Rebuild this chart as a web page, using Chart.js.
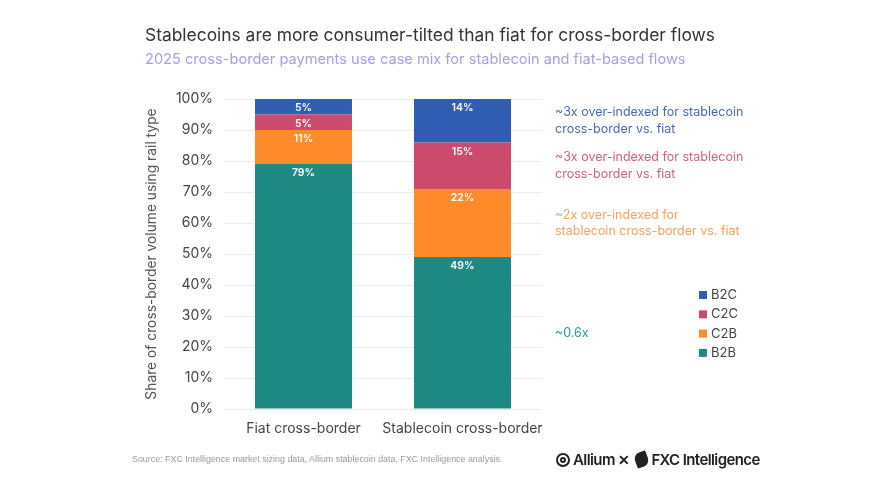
<!DOCTYPE html>
<html>
<head>
<meta charset="utf-8">
<script src="https://cdn.jsdelivr.net/npm/chart.js@4"></script>
<style>
  body { margin: 0; background: #fff; font-family: Inter, "Noto Sans", sans-serif; }
  #wrap { position: relative; width: 892px; height: 498px; overflow: hidden; }
  #wrap canvas { position: absolute; left: 0; top: 0; }
  .title { position: absolute; left: 145px; top: 24px; font-size: 17.4px; color: #333; white-space: nowrap; }
  .sub { position: absolute; left: 145px; top: 50px; font-size: 14.6px; color: #a99de6; white-space: nowrap; }
  .source { position: absolute; left: 132px; top: 454px; font-size: 8.9px; color: #999; font-family: Arial, "Liberation Sans", sans-serif; white-space: nowrap; }
  .logo { position: absolute; left: 556px; top: 450px; font-size: 15px; font-weight: 600; color: #222; white-space: nowrap; letter-spacing: -0.6px; display: flex; align-items: center; }
  .ring { width: 14px; height: 14px; border: 2px solid #222; border-radius: 50%; box-sizing: border-box; margin-right: 3px; position: relative; }
  .ring::after { content: ""; position: absolute; left: 2px; top: 2px; width: 6px; height: 6px; border: 2px solid #222; border-radius: 50%; box-sizing: border-box; }
  .fxc { display: inline-block; width: 13px; height: 15px; background: #222; border-radius: 50% 10% 50% 10%; margin: 0 3px 0 6px; transform: rotate(-20deg); }
</style>
</head>
<body>
<div id="wrap">
  <canvas id="grafico" width="892" height="498"></canvas>
  <div class="title">Stablecoins are more consumer-tilted than fiat for cross-border flows</div>
  <div class="sub">2025 cross-border payments use case mix for stablecoin and fiat-based flows</div>
  <div class="source">Source: FXC Intelligence market sizing data, Allium stablecoin data, FXC Intelligence analysis.</div>
  <div class="logo"><span class="ring"></span>Allium&nbsp;<span style="font-size:14px">✕</span><span class="fxc"></span>FXC Intelligence</div>
</div>
<script>
// ---------------- dati ----------------
const categorie = ['Fiat cross-border', 'Stablecoin cross-border'];
const b2b = [79, 49];
const c2b = [11, 22];
const c2c = [5, 15];
const b2c = [5, 14];
const tickY = [0, 10, 20, 30, 40, 50, 60, 70, 80, 90, 100];

const note = {
  B2C: ['~3x over-indexed for stablecoin', 'cross-border vs. fiat'],
  C2C: ['~3x over-indexed for stablecoin', 'cross-border vs. fiat'],
  C2B: ['~2x over-indexed for', 'stablecoin cross-border vs. fiat'],
  B2B: ['~0.6x']
};

const colori = { B2B: '#1f8a84', C2B: '#fd8a2b', C2C: '#cc4b6c', B2C: '#2f5db1' };
const noteColori = { B2B: '#2a9a93', C2B: '#f7a15a', C2C: '#d0607d', B2C: '#4569b6' };

// ---------------- plugin etichette + note + legenda ----------------
const etichette = {
  id: 'etichette',
  afterDatasetsDraw(chart) {
    const ctx = chart.ctx;
    ctx.save();
    ctx.font = '600 10.5px Inter, sans-serif';
    ctx.fillStyle = '#fff';
    ctx.textAlign = 'center';
    ctx.textBaseline = 'middle';
    chart.data.datasets.forEach((ds, i) => {
      chart.getDatasetMeta(i).data.forEach((bar, j) => {
        ctx.fillText(ds.data[j] + '%', bar.x, bar.y + 9);
      });
    });

    // note a destra, centrate sui segmenti della stablecoin
    ctx.font = '12.5px Inter, sans-serif';
    ctx.textAlign = 'left';
    chart.data.datasets.forEach((ds, i) => {
      const bar = chart.getDatasetMeta(i).data[1];
      const mid = (bar.y + bar.base) / 2;
      const righe = note[ds.label];
      ctx.fillStyle = noteColori[ds.label];
      righe.forEach((r, k) => {
        ctx.fillText(r, 555, mid + (k - (righe.length - 1) / 2) * 16.5);
      });
    });

    // legenda
    ctx.font = '13px Inter, sans-serif';
    const ordine = ['B2C', 'C2C', 'C2B', 'B2B'];
    ordine.forEach((lab, k) => {
      const yy = 295 + k * 19.3;
      ctx.fillStyle = colori[lab];
      ctx.fillRect(699, yy - 4, 8, 8);
      ctx.fillStyle = '#444';
      ctx.fillText(lab, 711, yy);
    });
    ctx.restore();
  }
};

const ctx = document.getElementById('grafico').getContext('2d');
const chart = new Chart(ctx, {
  type: 'bar',
  data: {
    labels: categorie,
    datasets: [
      { label: 'B2B', data: b2b, backgroundColor: colori.B2B },
      { label: 'C2B', data: c2b, backgroundColor: colori.C2B },
      { label: 'C2C', data: c2c, backgroundColor: colori.C2C },
      { label: 'B2C', data: b2c, backgroundColor: colori.B2C }
    ]
  },
  options: {
    responsive: false,
    maintainAspectRatio: false,
    animation: false,
    devicePixelRatio: 1,
    layout: { padding: { left: 144, right: 350, top: 99, bottom: 59 } },
    datasets: { bar: { categoryPercentage: 1, barPercentage: 0.61 } },
    plugins: { legend: { display: false }, tooltip: { enabled: false } },
    scales: {
      x: {
        stacked: true,
        grid: { display: false },
        border: { display: false },
        ticks: { color: '#444', font: { size: 14, family: 'Inter' }, padding: 3, maxRotation: 0, minRotation: 0, autoSkip: false },
        afterFit(s) { s.height = 30; }
      },
      y: {
        stacked: true,
        min: 0, max: 100,
        afterBuildTicks(s) { s.ticks = tickY.map(v => ({ value: v })); },
        grid: { color: '#ececec', drawTicks: false },
        border: { display: false },
        ticks: { color: '#444', font: { size: 14, family: 'Inter' }, padding: 11, callback: v => v + '%' },
        title: { display: true, text: 'Share of cross-border volume using rail type', color: '#555', font: { size: 13.8, family: 'Inter' }, padding: 0 },
        afterFit(s) { s.width = 80; }
      }
    }
  },
  plugins: [etichette]
});
</script>
</body>
</html>
